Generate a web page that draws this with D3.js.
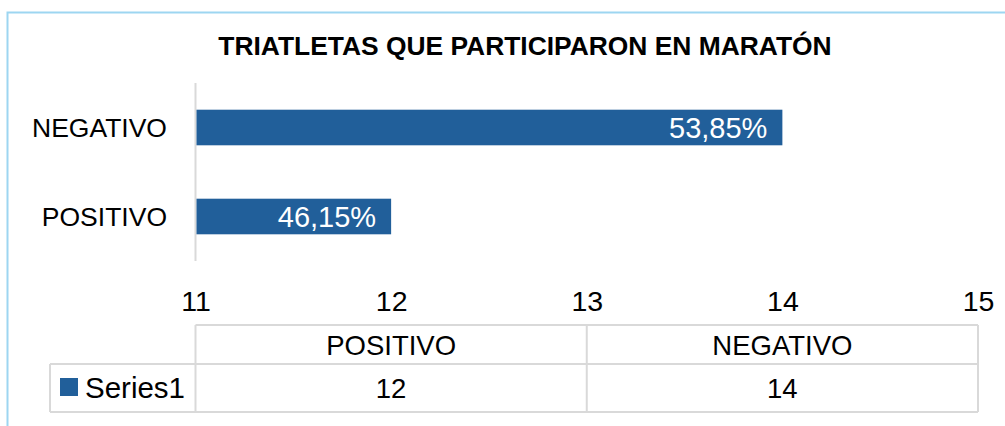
<!DOCTYPE html>
<html>
<head>
<meta charset="utf-8">
<script src="https://cdn.jsdelivr.net/npm/d3@7"></script>
<style>
html,body{margin:0;padding:0;background:#fff;}
svg{display:block;font-family:"Liberation Sans",Arial,sans-serif;}
</style>
</head>
<body>
<svg id="chart" width="1005" height="426"></svg>
<script>
const title = "TRIATLETAS QUE PARTICIPARON EN MARATÓN";
const categories = ["POSITIVO", "NEGATIVO"];
const values = [12, 14];
const dataLabels = ["46,15%", "53,85%"];
const seriesName = "Series1";
const xTicks = [11, 12, 13, 14, 15];
const xDomain = [11, 15];

const svg = d3.select("#chart");
const barColor = "#215f9a";
const gridColor = "#d9d9d9";

// outer frame (light blue)
svg.append("path")
  .attr("d", "M7.5,430 L7.5,12.5 L1010,12.5")
  .attr("fill", "none").attr("stroke", "#9dd6f1").attr("stroke-width", 2);

// title
svg.append("text")
  .attr("x", 525).attr("y", 55)
  .attr("text-anchor", "middle")
  .attr("font-weight", "bold").attr("font-size", 26.4)
  .attr("fill", "#000")
  .text(title);

const x = d3.scaleLinear().domain(xDomain).range([195.5, 978]);
const y = d3.scaleBand().domain(categories.slice().reverse()).range([83, 261])
  .paddingInner(0.6).paddingOuter(0.3);

// vertical axis line
svg.append("line")
  .attr("x1", x(xDomain[0])).attr("x2", x(xDomain[0]))
  .attr("y1", 83).attr("y2", 261)
  .attr("stroke", gridColor).attr("stroke-width", 2);

// bars
svg.selectAll("rect.bar").data(categories).join("rect")
  .attr("class", "bar")
  .attr("x", x(xDomain[0]) + 1)
  .attr("y", d => y(d))
  .attr("width", (d, i) => x(values[i]) - x(xDomain[0]) - 1)
  .attr("height", y.bandwidth())
  .attr("fill", barColor);

// data labels
svg.selectAll("text.dl").data(categories).join("text")
  .attr("class", "dl")
  .attr("x", (d, i) => x(values[i]) - 15)
  .attr("y", d => y(d) + y.bandwidth() / 2 + 10.5)
  .attr("text-anchor", "end")
  .attr("font-size", 29)
  .attr("fill", "#fff")
  .text((d, i) => dataLabels[i]);

// category labels
svg.selectAll("text.cat").data(categories).join("text")
  .attr("class", "cat")
  .attr("x", 167)
  .attr("y", d => y(d) + y.bandwidth() / 2 + 9.5)
  .attr("text-anchor", "end")
  .attr("font-size", 26.5)
  .attr("fill", "#000")
  .text(d => d);

// x axis tick labels
const xAxis = d3.axisBottom(x).tickValues(xTicks).tickSize(0).tickPadding(0).tickFormat(d3.format("d"));
const gx = svg.append("g").attr("transform", "translate(0,290)").call(xAxis);
gx.select(".domain").remove();
gx.selectAll("text")
  .attr("font-size", 28.5).attr("fill", "#000")
  .attr("font-family", "'Liberation Sans',Arial,sans-serif")
  .attr("dy", "0.74em");

// data table
const tTop = 325, tMid = 364, tBot = 412, legLeft = 50;
const colEdges = [x(xDomain[0]), (x(xDomain[0]) + x(xDomain[1])) / 2, x(xDomain[1])];
const tbl = svg.append("g").attr("stroke", gridColor).attr("stroke-width", 2);
tbl.append("line").attr("x1", colEdges[0]).attr("x2", colEdges[2]).attr("y1", tTop).attr("y2", tTop);
tbl.append("line").attr("x1", legLeft).attr("x2", colEdges[2]).attr("y1", tMid).attr("y2", tMid);
tbl.append("line").attr("x1", legLeft).attr("x2", colEdges[2]).attr("y1", tBot).attr("y2", tBot);
tbl.append("line").attr("x1", legLeft).attr("x2", legLeft).attr("y1", tMid).attr("y2", tBot);
colEdges.forEach(cx => {
  tbl.append("line").attr("x1", cx).attr("x2", cx).attr("y1", tTop).attr("y2", tBot);
});

const colCenters = categories.map((d, i) => (colEdges[i] + colEdges[i + 1]) / 2);
svg.selectAll("text.th").data(categories).join("text")
  .attr("class", "th")
  .attr("x", (d, i) => colCenters[i])
  .attr("y", (tTop + tMid) / 2 + 10)
  .attr("text-anchor", "middle").attr("font-size", 27.5).attr("fill", "#000")
  .text(d => d);
svg.selectAll("text.tv").data(values).join("text")
  .attr("class", "tv")
  .attr("x", (d, i) => colCenters[i])
  .attr("y", (tMid + tBot) / 2 + 10)
  .attr("text-anchor", "middle").attr("font-size", 27.5).attr("fill", "#000")
  .text(d => d);

// legend key
svg.append("rect").attr("x", 60).attr("y", 378).attr("width", 18).attr("height", 18).attr("fill", barColor);
svg.append("text").attr("x", 85).attr("y", (tMid + tBot) / 2 + 10)
  .attr("font-size", 29.5).attr("fill", "#000").text(seriesName);
</script>
</body>
</html>
